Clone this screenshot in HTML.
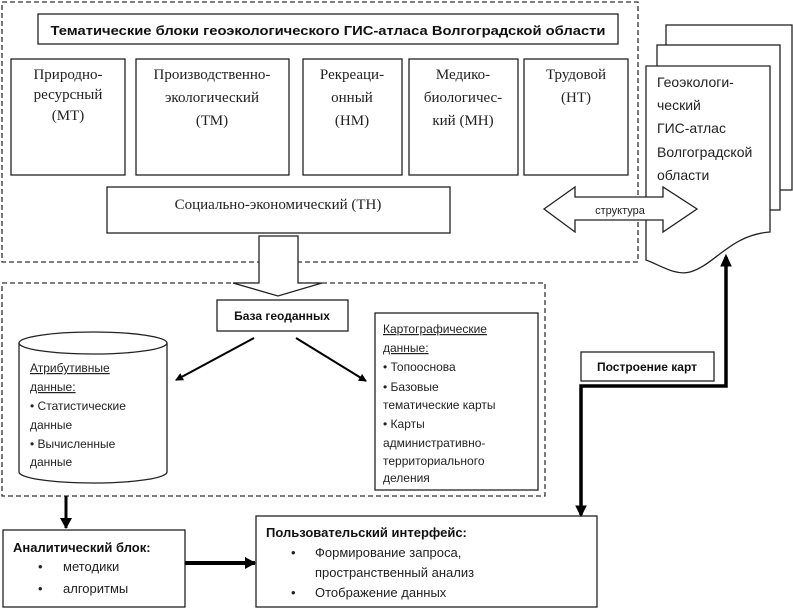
<!DOCTYPE html>
<html><head><meta charset="utf-8"><style>
html,body{margin:0;padding:0;background:#fff;}
svg{display:block;}
.s{font-family:"Liberation Serif",serif;font-size:15px;fill:#222;}
.n{font-family:"Liberation Sans",sans-serif;font-size:12.5px;fill:#222;}
.b{font-family:"Liberation Sans",sans-serif;font-size:13px;font-weight:bold;fill:#111;}
</style></head><body>
<svg width="793" height="609" viewBox="0 0 793 609" xmlns="http://www.w3.org/2000/svg">
<defs>
<marker id="ah" markerWidth="8" markerHeight="8" refX="7" refY="4" orient="auto" markerUnits="userSpaceOnUse"><path d="M0,0 L8,4 L0,8 z" fill="#000"/></marker>
<marker id="ah2" markerWidth="12" markerHeight="12" refX="10" refY="6" orient="auto" markerUnits="userSpaceOnUse"><path d="M0,0 L11,6 L0,12 z" fill="#000"/></marker>
</defs>
<g fill="none" stroke="#333" stroke-width="1.3">
<rect x="2" y="2" width="636" height="260" stroke-dasharray="5,3"/>
<rect x="2" y="283" width="543" height="213" stroke-dasharray="5,3"/>
</g>
<g fill="#fff" stroke="#222" stroke-width="1.3">
<rect x="38" y="14" width="580" height="30"/>
<rect x="11" y="59" width="114" height="116"/>
<rect x="136" y="59" width="153" height="116"/>
<rect x="303" y="59" width="99" height="116"/>
<rect x="409" y="59" width="109" height="116"/>
<rect x="524" y="59" width="104" height="116"/>
<rect x="107" y="187" width="343" height="46"/>
<!-- doc stack -->
<rect x="666" y="25" width="126" height="165"/>
<rect x="657" y="45" width="123" height="165"/>
<path d="M646,66 L770,66 L770,232 C730,235 715,265 690,272 C675,276 660,265 646,260 Z"/>
<!-- double arrow -->
<path d="M544,209 L575,187 L575,197 L663,197 L663,187 L697,209 L663,232 L663,220 L575,220 L575,232 Z"/>
<!-- hollow down arrow -->
<path d="M259,236 L298,236 L298,283 L322,283 L278,296 L233,283 L259,283 Z"/>
<rect x="217" y="300" width="131" height="31"/>
<rect x="375" y="313" width="163" height="177"/>
<path d="M19,343 L19,472 A74,11 0 0 0 167,472 L167,343"/>
<ellipse cx="93" cy="343" rx="74" ry="11"/>
<rect x="581" y="352" width="133" height="29"/>
<rect x="3" y="530" width="182" height="77"/>
<rect x="256" y="516" width="341" height="91"/>
</g>
<g stroke="#000" fill="none">
<line x1="254" y1="338" x2="176" y2="380" stroke-width="2" marker-end="url(#ah)"/>
<line x1="296" y1="338" x2="366" y2="381" stroke-width="2" marker-end="url(#ah)"/>
<polyline points="581,515 581,386 726,386 726,257" stroke-width="3.5"/>
<path d="M576,506 L586,506 L581,516 z M721,266 L731,266 L726,255 z" fill="#000"/>
<line x1="66" y1="496" x2="66" y2="528" stroke-width="3" marker-end="url(#ah2)"/>
<line x1="185" y1="563" x2="255" y2="563" stroke-width="4" marker-end="url(#ah2)"/>
</g>
<text class="b" x="328" y="35" text-anchor="middle" textLength="555" lengthAdjust="spacingAndGlyphs">Тематические блоки геоэкологического ГИС-атласа Волгоградской области</text>
<g class="s" text-anchor="middle">
<text x="68" y="79">Природно-</text><text x="68" y="99">ресурсный</text><text x="68" y="120">(МТ)</text>
<text x="212" y="79">Производственно-</text><text x="212" y="102">экологический</text><text x="212" y="125">(ТМ)</text>
<text x="352" y="79">Рекреаци-</text><text x="352" y="102">онный</text><text x="352" y="125">(НМ)</text>
<text x="463" y="79">Медико-</text><text x="463" y="102">биологичес-</text><text x="463" y="125">кий (МН)</text>
<text x="576" y="79">Трудовой</text><text x="576" y="102">(НТ)</text>
<text x="278" y="209">Социально-экономический (ТН)</text>
</g>
<g class="n" font-size="13.5">
<text x="657" y="87" class="n" style="font-size:14px">Геоэкологи-</text>
<text x="657" y="110" style="font-size:14px">ческий</text>
<text x="657" y="133" style="font-size:14px">ГИС-атлас</text>
<text x="657" y="157" style="font-size:14px">Волгоградской</text>
<text x="657" y="180" style="font-size:14px">области</text>
</g>
<text class="n" x="620" y="214" text-anchor="middle" style="font-size:11px">структура</text>
<text class="b" x="282" y="320" text-anchor="middle" style="font-size:12px">База геоданных</text>
<text class="b" x="647" y="371" text-anchor="middle" style="font-size:12px">Построение карт</text>
<g class="n" style="font-size:12px">
<text x="30" y="372" text-decoration="underline">Атрибутивные</text>
<text x="30" y="391" text-decoration="underline">данные:</text>
<text x="30" y="410">• Статистические</text>
<text x="30" y="429">данные</text>
<text x="30" y="448">• Вычисленные</text>
<text x="30" y="466">данные</text>
<text x="383" y="333" text-decoration="underline">Картографические</text>
<text x="383" y="352" text-decoration="underline">данные:</text>
<text x="383" y="371">• Топооснова</text>
<text x="383" y="391">• Базовые</text>
<text x="383" y="409">тематические карты</text>
<text x="383" y="428">• Карты</text>
<text x="383" y="447">административно-</text>
<text x="383" y="465">территориального</text>
<text x="383" y="482">деления</text>
</g>
<text class="b" x="13" y="552">Аналитический блок:</text>
<g class="n" style="font-size:13px">
<text x="38" y="571">•</text><text x="63" y="571">методики</text>
<text x="38" y="593">•</text><text x="63" y="593">алгоритмы</text>
</g>
<text class="b" x="266" y="537">Пользовательский интерфейс:</text>
<g class="n" style="font-size:13px">
<text x="291" y="557">•</text><text x="315" y="557">Формирование запроса,</text>
<text x="315" y="577">пространственный анализ</text>
<text x="291" y="597">•</text><text x="315" y="597">Отображение данных</text>
</g>
</svg>
</body></html>
